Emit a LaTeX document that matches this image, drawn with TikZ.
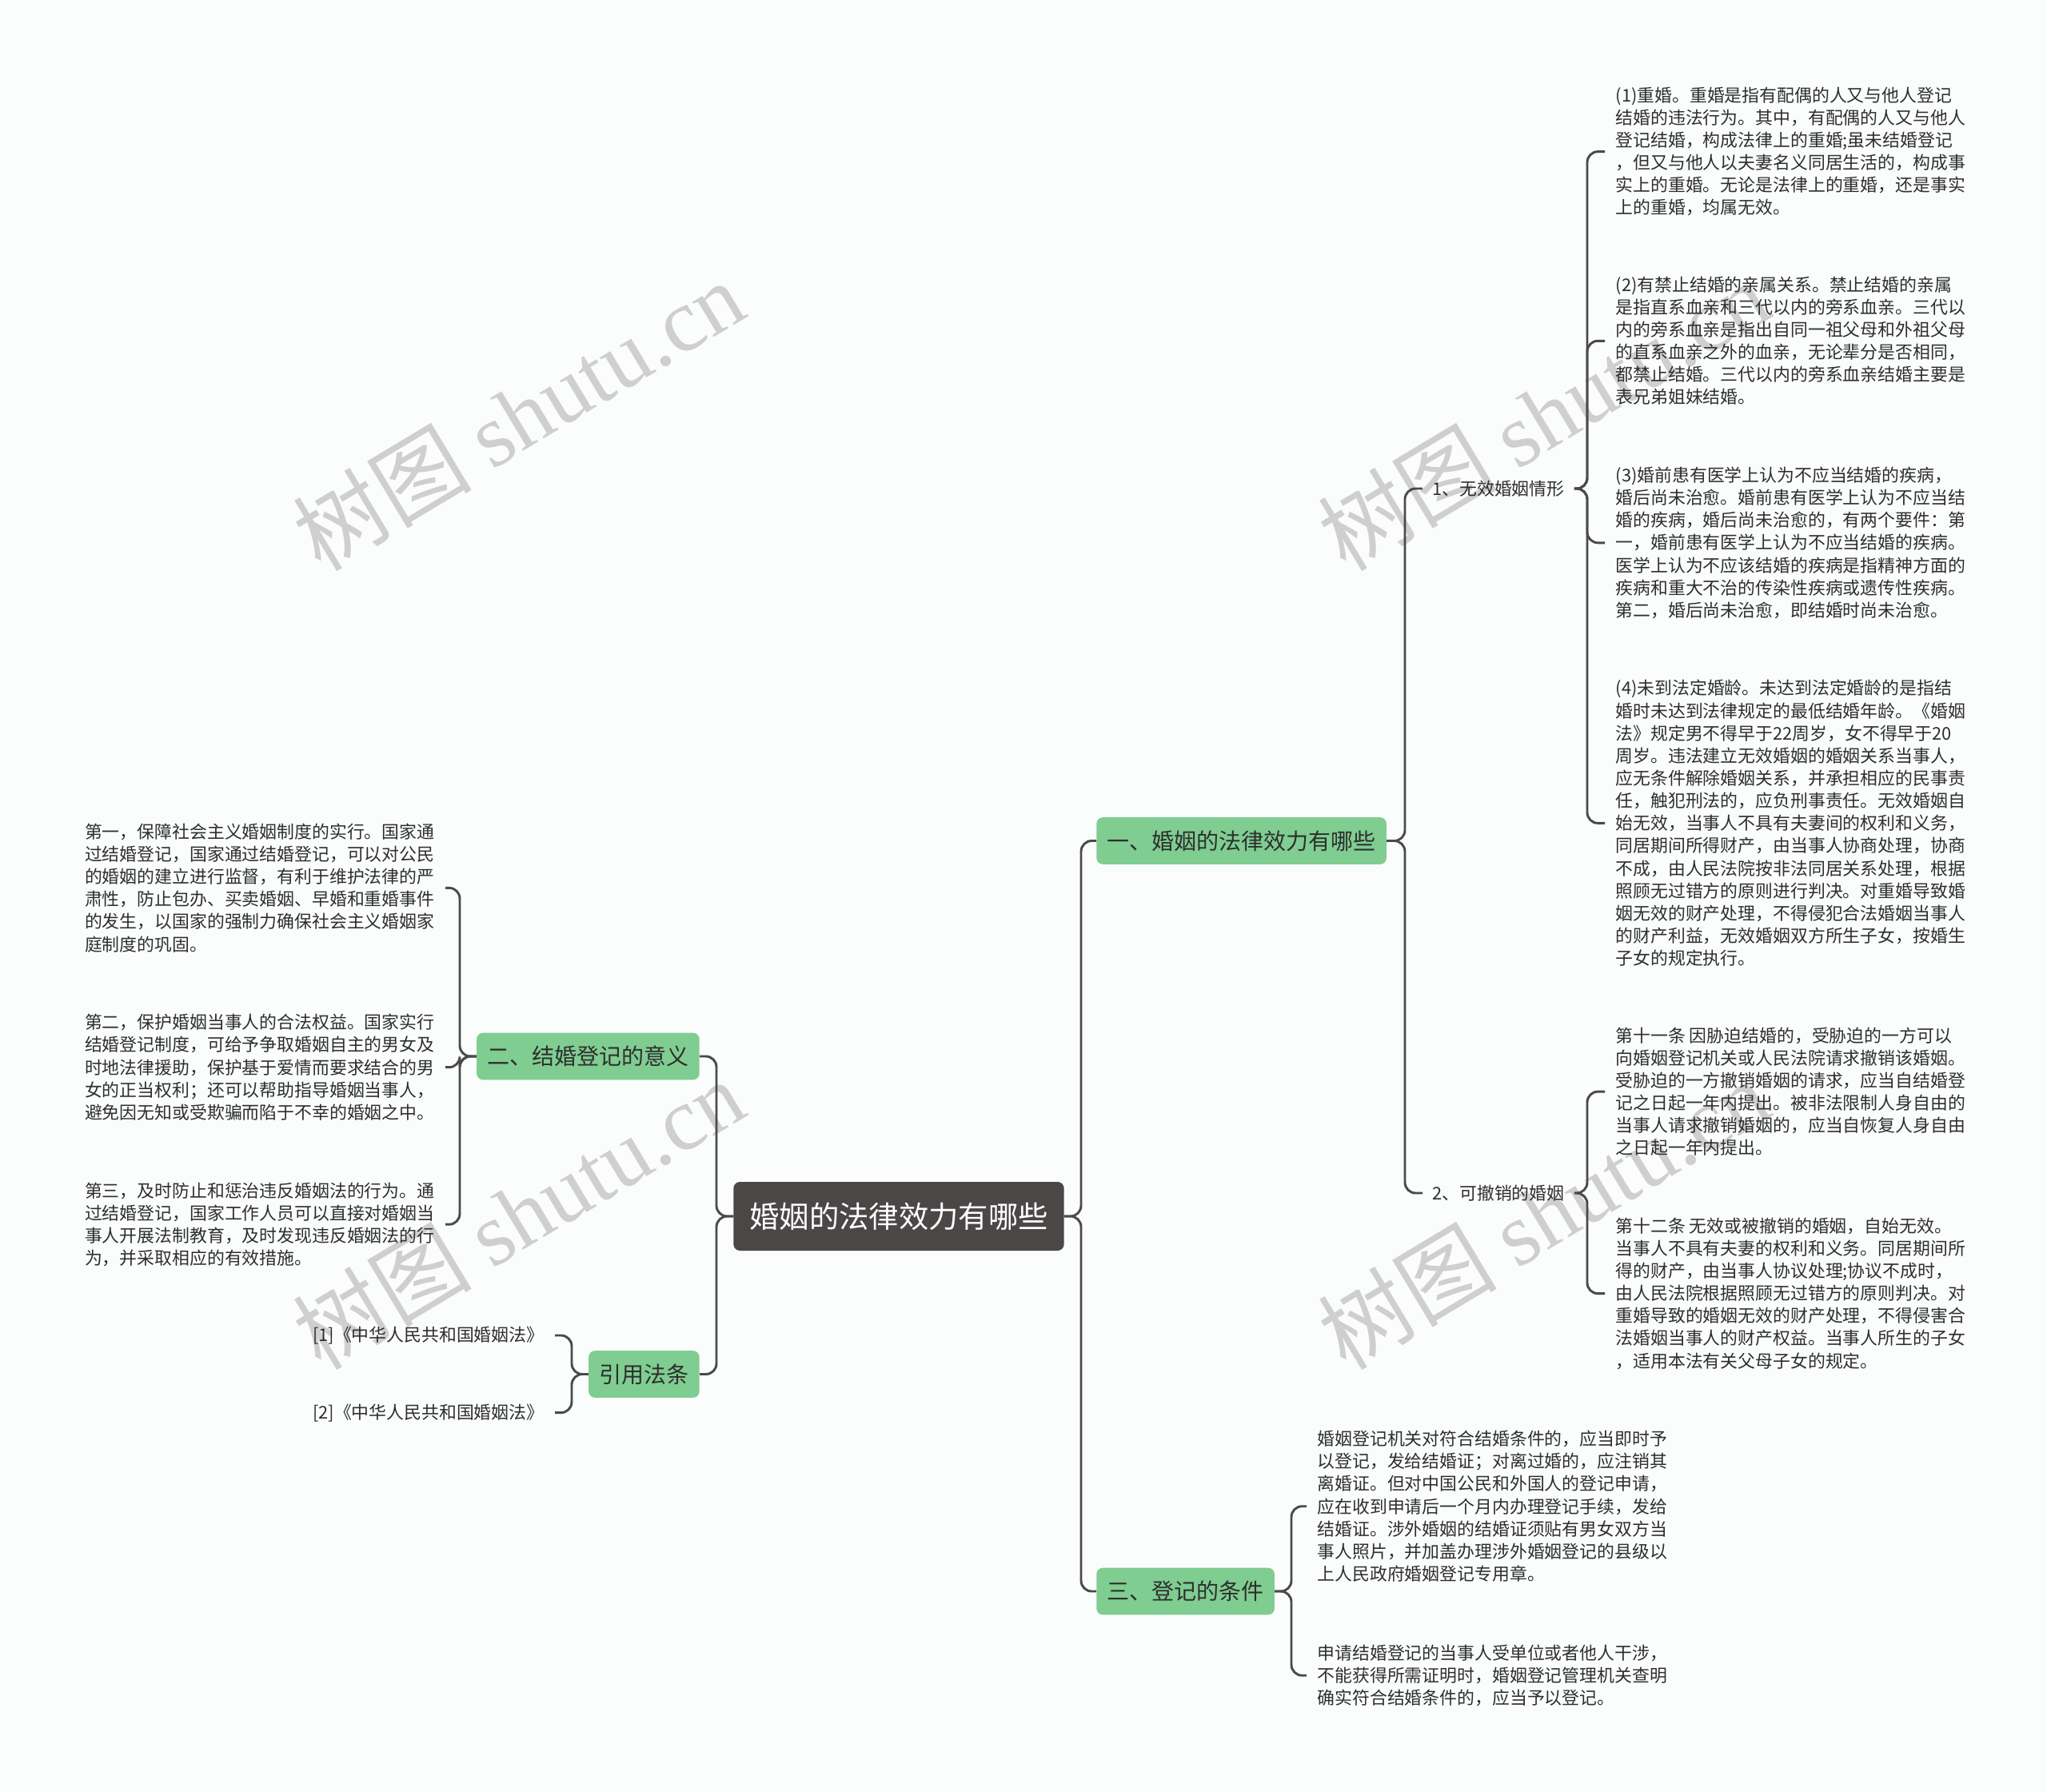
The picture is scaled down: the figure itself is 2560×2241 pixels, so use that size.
\documentclass[tikz,border=0pt]{standalone}
\usepackage{fontspec}
\setmainfont{Noto Sans CJK SC}
\newfontfamily\wmserif{Liberation Serif}
\definecolor{bg}{HTML}{FBFDFD}
\definecolor{brgreen}{HTML}{7FCD91}
\definecolor{rootgray}{HTML}{4B4747}
\definecolor{linegray}{HTML}{4A4A4A}
\definecolor{txt}{HTML}{2E2E2E}
\definecolor{wm}{HTML}{CFCFCF}
\begin{document}
\begin{tikzpicture}[x=0.75pt,y=-0.75pt,
  rootbox/.style={fill=rootgray, text=white, rounded corners=6pt, font=\fontsize{28}{34}\selectfont, inner xsep=15pt, minimum height=64.5pt},
  branchbox/.style={fill=brgreen, text=txt, rounded corners=6pt, font=\fontsize{21}{25}\selectfont, inner xsep=10pt, minimum height=44pt},
  subnode/.style={text=txt, font=\fontsize{16.4}{21.1}\selectfont, inner xsep=9pt},
  leaf/.style={text=txt, font=\fontsize{16.4}{21.1}\selectfont, align=left, inner xsep=10pt, inner ysep=2pt},
  conn/.style={draw=linegray, line width=2.2pt, rounded corners=10pt},
  wmark/.style={text=wm, rotate=31, font=\fontsize{84}{90}\selectfont, inner sep=0pt}
]
\fill[bg] (0,0) rectangle (2560,2241);
\useasboundingbox (0,0) rectangle (2560,2241);

% watermarks
\node[wmark] (w1) at (648,519) {树图 {\wmserif shutu.cn}};
\node[wmark] (w2) at (648,1518) {树图 {\wmserif shutu.cn}};
\node[wmark] (w3) at (1930,519) {树图 {\wmserif shutu.cn}};
\node[wmark] (w4) at (1930,1518) {树图 {\wmserif shutu.cn}};

% trunks
\coordinate (tr) at (1352,0);
\coordinate (tl) at (896,0);
\coordinate (t1) at (1757,0);
\coordinate (t3) at (1615,0);
\coordinate (ts) at (1985,0);
\coordinate (t2) at (575,0);
\coordinate (t4) at (715,0);

% main nodes
\node[rootbox] (root) at (1124,1521) {婚姻的法律效力有哪些};
\node[branchbox, anchor=west] (b1) at (1371,1051.5) {一、婚姻的法律效力有哪些};
\node[branchbox, anchor=west] (b3) at (1371,1990) {三、登记的条件};
\node[branchbox, anchor=east] (b2) at (875,1321) {二、结婚登记的意义};
\node[branchbox, anchor=east] (b4) at (875,1718.5) {引用法条};
\node[subnode, anchor=west] (s1) at (1779,611) {1、无效婚姻情形};
\node[subnode, anchor=west] (s2) at (1779,1492) {2、可撤销的婚姻};

% right leaves
\node[leaf, anchor=west] (l1) at (2007,189.6) {(1)重婚。重婚是指有配偶的人又与他人登记\\
结婚的违法行为。其中，有配偶的人又与他人\\
登记结婚，构成法律上的重婚;虽未结婚登记\\
，但又与他人以夫妻名义同居生活的，构成事\\
实上的重婚。无论是法律上的重婚，还是事实\\
上的重婚，均属无效。};
\node[leaf, anchor=west] (l2) at (2007,426.3) {(2)有禁止结婚的亲属关系。禁止结婚的亲属\\
是指直系血亲和三代以内的旁系血亲。三代以\\
内的旁系血亲是指出自同一祖父母和外祖父母\\
的直系血亲之外的血亲，无论辈分是否相同，\\
都禁止结婚。三代以内的旁系血亲结婚主要是\\
表兄弟姐妹结婚。};
\node[leaf, anchor=west] (l3) at (2007,678.8) {(3)婚前患有医学上认为不应当结婚的疾病，\\
婚后尚未治愈。婚前患有医学上认为不应当结\\
婚的疾病，婚后尚未治愈的，有两个要件：第\\
一，婚前患有医学上认为不应当结婚的疾病。\\
医学上认为不应该结婚的疾病是指精神方面的\\
疾病和重大不治的传染性疾病或遗传性疾病。\\
第二，婚后尚未治愈，即结婚时尚未治愈。};
\node[leaf, anchor=west] (l4) at (2007,1029.4) {(4)未到法定婚龄。未达到法定婚龄的是指结\\
婚时未达到法律规定的最低结婚年龄。《婚姻\\
法》规定男不得早于22周岁，女不得早于20\\
周岁。违法建立无效婚姻的婚姻关系当事人，\\
应无条件解除婚姻关系，并承担相应的民事责\\
任，触犯刑法的，应负刑事责任。无效婚姻自\\
始无效，当事人不具有夫妻间的权利和义务，\\
同居期间所得财产，由当事人协商处理，协商\\
不成，由人民法院按非法同居关系处理，根据\\
照顾无过错方的原则进行判决。对重婚导致婚\\
姻无效的财产处理，不得侵犯合法婚姻当事人\\
的财产利益，无效婚姻双方所生子女，按婚生\\
子女的规定执行。};
\node[leaf, anchor=west] (l5) at (2007,1365.1) {第十一条 因胁迫结婚的，受胁迫的一方可以\\
向婚姻登记机关或人民法院请求撤销该婚姻。\\
受胁迫的一方撤销婚姻的请求，应当自结婚登\\
记之日起一年内提出。被非法限制人身自由的\\
当事人请求撤销婚姻的，应当自恢复人身自由\\
之日起一年内提出。};
\node[leaf, anchor=west] (l6) at (2007,1617.6) {第十二条 无效或被撤销的婚姻，自始无效。\\
当事人不具有夫妻的权利和义务。同居期间所\\
得的财产，由当事人协议处理;协议不成时，\\
由人民法院根据照顾无过错方的原则判决。对\\
重婚导致的婚姻无效的财产处理，不得侵害合\\
法婚姻当事人的财产权益。当事人所生的子女\\
，适用本法有关父母子女的规定。};
\node[leaf, anchor=west] (l7) at (1634,1883.7) {婚姻登记机关对符合结婚条件的，应当即时予\\
以登记，发给结婚证；对离过婚的，应注销其\\
离婚证。但对中国公民和外国人的登记申请，\\
应在收到申请后一个月内办理登记手续，发给\\
结婚证。涉外婚姻的结婚证须贴有男女双方当\\
事人照片，并加盖办理涉外婚姻登记的县级以\\
上人民政府婚姻登记专用章。};
\node[leaf, anchor=west] (l8) at (1634,2095.2) {申请结婚登记的当事人受单位或者他人干涉，\\
不能获得所需证明时，婚姻登记管理机关查明\\
确实符合结婚条件的，应当予以登记。};

% left leaves
\node[leaf, anchor=east] (ll1) at (557,1110.4) {第一，保障社会主义婚姻制度的实行。国家通\\
过结婚登记，国家通过结婚登记，可以对公民\\
的婚姻的建立进行监督，有利于维护法律的严\\
肃性，防止包办、买卖婚姻、早婚和重婚事件\\
的发生，以国家的强制力确保社会主义婚姻家\\
庭制度的巩固。};
\node[leaf, anchor=east] (ll2) at (557,1334.7) {第二，保护婚姻当事人的合法权益。国家实行\\
结婚登记制度，可给予争取婚姻自主的男女及\\
时地法律援助，保护基于爱情而要求结合的男\\
女的正当权利；还可以帮助指导婚姻当事人，\\
避免因无知或受欺骗而陷于不幸的婚姻之中。};
\node[leaf, anchor=east] (ll3) at (557,1531.2) {第三，及时防止和惩治违反婚姻法的行为。通\\
过结婚登记，国家工作人员可以直接对婚姻当\\
事人开展法制教育，及时发现违反婚姻法的行\\
为，并采取相应的有效措施。};
\node[leaf, anchor=east] (r1) at (694,1670) {[1]《中华人民共和国婚姻法》};
\node[leaf, anchor=east] (r2) at (694,1766.6) {[2]《中华人民共和国婚姻法》};

% connectors
\draw[conn] (root.east) -- (root.east -| tr) |- (b1.west);
\draw[conn] (root.east) -- (root.east -| tr) |- (b3.west);
\draw[conn] (root.west) -- (root.west -| tl) |- (b2.east);
\draw[conn] (root.west) -- (root.west -| tl) |- (b4.east);
\draw[conn] (b1.east) -- (b1.east -| t1) |- (s1.west);
\draw[conn] (b1.east) -- (b1.east -| t1) |- (s2.west);
\foreach \l in {l1,l2,l3,l4}
  \draw[conn] (s1.east) -- (s1.east -| ts) |- (\l.west);
\foreach \l in {l5,l6}
  \draw[conn] (s2.east) -- (s2.east -| ts) |- (\l.west);
\foreach \l in {l7,l8}
  \draw[conn] (b3.east) -- (b3.east -| t3) |- (\l.west);
\foreach \l in {ll1,ll2,ll3}
  \draw[conn] (b2.west) -- (b2.west -| t2) |- (\l.east);
\foreach \l in {r1,r2}
  \draw[conn] (b4.west) -- (b4.west -| t4) |- (\l.east);
\end{tikzpicture}
\end{document}
